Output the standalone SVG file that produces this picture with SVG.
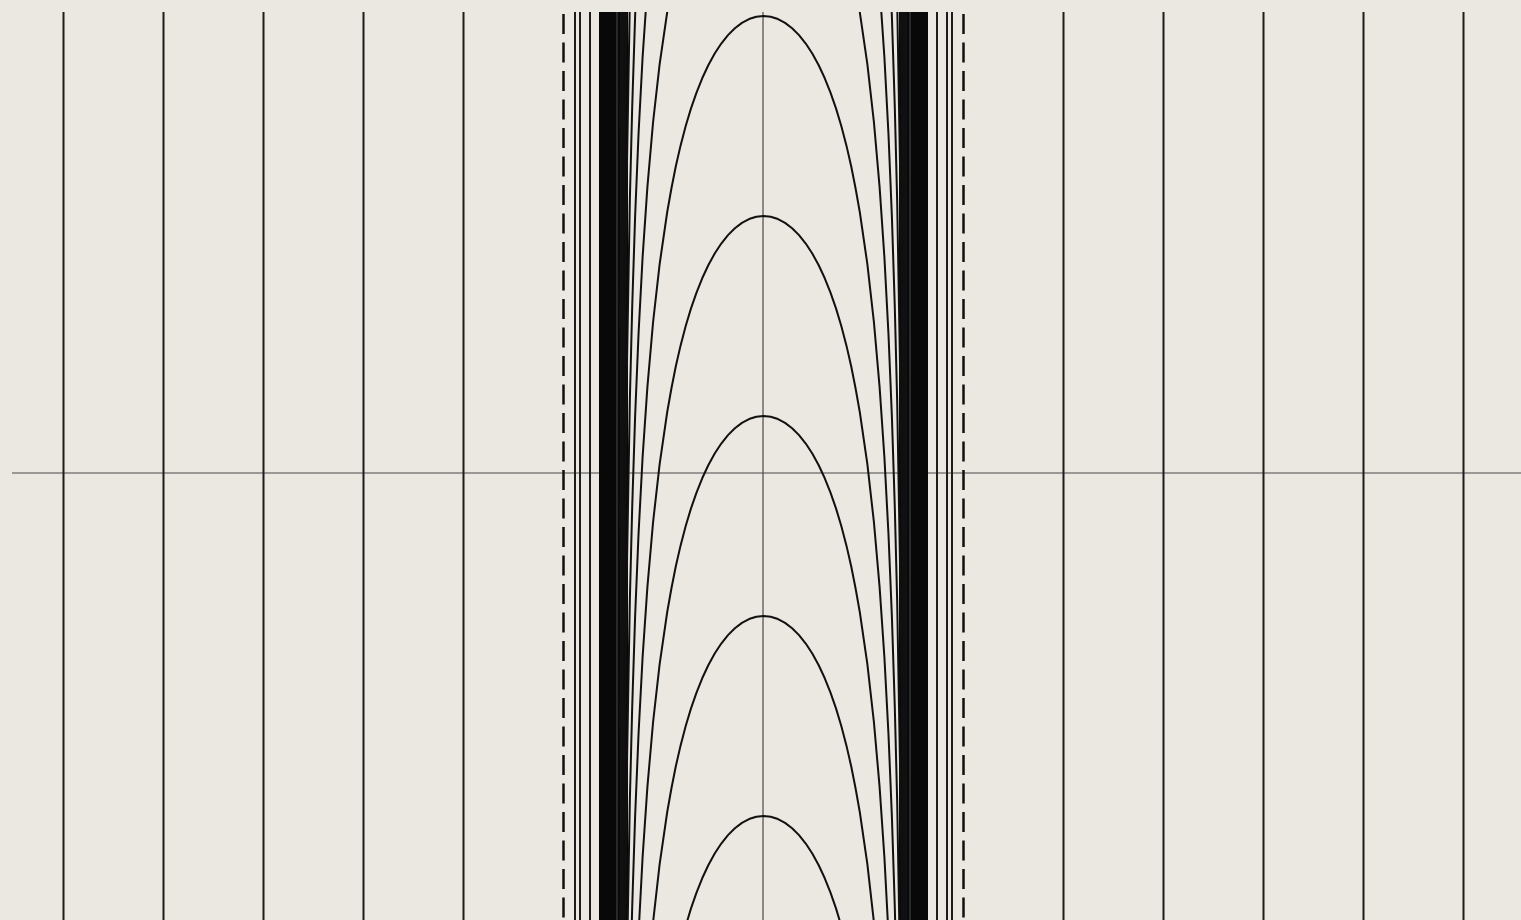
<svg xmlns="http://www.w3.org/2000/svg" width="1521" height="920" viewBox="0 0 1521 920">
  <defs>
    <clipPath id="plot"><rect x="12" y="12" width="1509" height="908"/></clipPath>
    <path id="arch" d="M -143.06,1914 L -141.48,1482.25 L -139.78,1225 L -137.29,992.25 L -133.65,784 L -131.24,689.06 L -128.38,600.25 L -124.95,517.56 L -120.89,441 L -116.07,370.56 L -110.43,306.25 L -103.86,248.06 L -96.28,196 L -92.1,172.5 L -87.64,150.06 L -82.9,129.39 L -77.87,110.25 L -72.57,92.64 L -67,76.56 L -61.18,62.02 L -55.09,49 L -48.78,37.52 L -42.24,27.56 L -35.51,19.14 L -28.62,12.25 L -21.59,6.89 L -14.46,3.06 L -7.24,0.77 L 0,0 L 7.24,0.77 L 14.46,3.06 L 21.59,6.89 L 28.62,12.25 L 35.51,19.14 L 42.24,27.56 L 48.78,37.52 L 55.09,49 L 61.18,62.02 L 67,76.56 L 72.57,92.64 L 77.87,110.25 L 82.9,129.39 L 87.64,150.06 L 92.1,172.5 L 96.28,196 L 103.86,248.06 L 110.43,306.25 L 116.07,370.56 L 120.89,441 L 124.95,517.56 L 128.38,600.25 L 131.24,689.06 L 133.65,784 L 137.29,992.25 L 139.78,1225 L 141.48,1482.25 L 143.06,1914"/>
  </defs>
  <style>
    .grid { stroke: #1c1c1c; stroke-width: 2; fill: none; }
    .axis { stroke: #4a4a4a; stroke-width: 1.2; fill: none; }
    .asym { stroke: #111; stroke-width: 2.5; stroke-dasharray: 20 8.5; fill: none; }
    .curve { stroke: #111; stroke-width: 2; fill: none; stroke-linejoin: round; }
    .band { fill: #080808; }
    .streak { stroke: #4a4a4a; stroke-width: 1; fill: none; }
  </style>
  <rect width="1521" height="920" fill="#ebe7e1"/>
  <g id="plot-area" clip-path="url(#plot)">
    <g id="axes">
      <line class="axis" x1="12" y1="473" x2="1521" y2="473"/>
      <line class="axis" x1="763" y1="12" x2="763" y2="920"/>
    </g>
    <g id="vertical-lines">
      <line class="grid" x1="63.5" y1="12" x2="63.5" y2="920"/>
      <line class="grid" x1="163.5" y1="12" x2="163.5" y2="920"/>
      <line class="grid" x1="263.5" y1="12" x2="263.5" y2="920"/>
      <line class="grid" x1="363.5" y1="12" x2="363.5" y2="920"/>
      <line class="grid" x1="463.5" y1="12" x2="463.5" y2="920"/>
      <line class="grid" x1="1063.5" y1="12" x2="1063.5" y2="920"/>
      <line class="grid" x1="1163.5" y1="12" x2="1163.5" y2="920"/>
      <line class="grid" x1="1263.5" y1="12" x2="1263.5" y2="920"/>
      <line class="grid" x1="1363.5" y1="12" x2="1363.5" y2="920"/>
      <line class="grid" x1="1463.5" y1="12" x2="1463.5" y2="920"/>
    </g>
    <g id="asymptotes">
      <line class="asym" x1="563.5" y1="14" x2="563.5" y2="920"/>
      <line class="asym" x1="963.5" y1="14" x2="963.5" y2="920"/>
    </g>
    <g id="bands">
      <rect class="band" x="599" y="12" width="29" height="908"/>
      <rect class="band" x="899" y="12" width="29" height="908"/>
      <line class="streak" x1="617" y1="12" x2="617" y2="920"/>
      <line class="streak" x1="622.5" y1="12" x2="622.5" y2="920"/>
      <line class="streak" x1="910" y1="12" x2="910" y2="920"/>
      <line class="streak" x1="904.5" y1="12" x2="904.5" y2="920"/>
      <line class="grid" x1="575" y1="12" x2="575" y2="920" stroke-width="2.6"/>
      <line class="grid" x1="580" y1="12" x2="580" y2="920" stroke-width="2.6"/>
      <line class="grid" x1="590" y1="12" x2="590" y2="920" stroke-width="2.6"/>
      <line class="grid" x1="937" y1="12" x2="937" y2="920" stroke-width="2.6"/>
      <line class="grid" x1="947" y1="12" x2="947" y2="920" stroke-width="2.6"/>
      <line class="grid" x1="952" y1="12" x2="952" y2="920" stroke-width="2.6"/>
    </g>
    <g id="arches">
      <use href="#arch" class="curve" transform="translate(763.5,816)"/>
      <use href="#arch" class="curve" transform="translate(763.5,616)"/>
      <use href="#arch" class="curve" transform="translate(763.5,416)"/>
      <use href="#arch" class="curve" transform="translate(763.5,216)"/>
      <use href="#arch" class="curve" transform="translate(763.5,16)"/>
      <use href="#arch" class="curve" transform="translate(763.5,-184)"/>
      <use href="#arch" class="curve" transform="translate(763.5,-384)"/>
      <use href="#arch" class="curve" transform="translate(763.5,-584)"/>
      <use href="#arch" class="curve" transform="translate(763.5,-784)"/>
      <use href="#arch" class="curve" transform="translate(763.5,-984)"/>
      <use href="#arch" class="curve" transform="translate(763.5,-1184)"/>
      <use href="#arch" class="curve" transform="translate(763.5,-1384)"/>
      <use href="#arch" class="curve" transform="translate(763.5,-1584)"/>
      <use href="#arch" class="curve" transform="translate(763.5,-1784)"/>
    </g>
  </g>
</svg>
